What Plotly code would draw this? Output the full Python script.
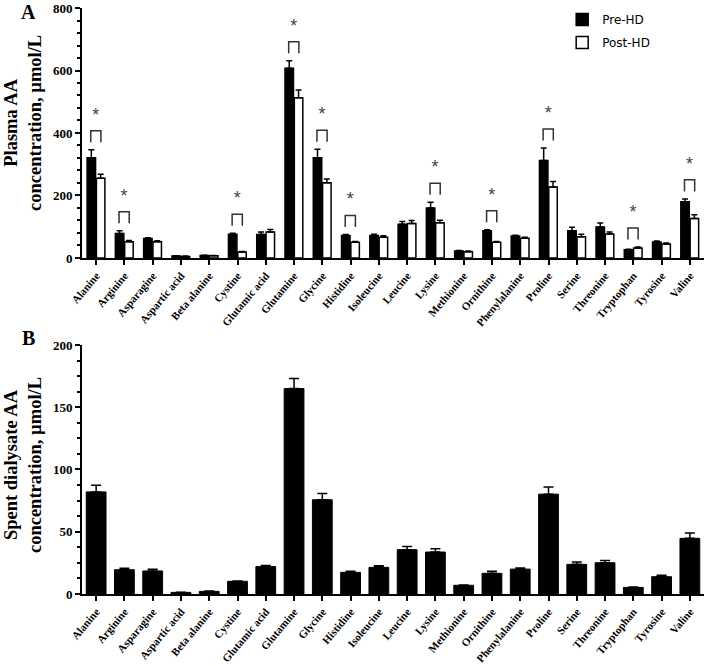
import plotly.graph_objects as go
from plotly.subplots import make_subplots

categories = ["Alanine", "Arginine", "Asparagine", "Aspartic acid", "Beta alanine",
              "Cystine", "Glutamic acid", "Glutamine", "Glycine", "Histidine",
              "Isoleucine", "Leucine", "Lysine", "Methionine", "Ornithine",
              "Phenylalanine", "Proline", "Serine", "Threonine", "Tryptophan",
              "Tyrosine", "Valine"]

pre_hd = [321, 78, 62, 6, 8, 76, 75, 607, 321, 72, 72, 108, 160, 22, 87, 70, 312, 87, 99, 26, 51, 180]
pre_hd_err = [25, 9, 3, 1, 1, 3, 8, 24, 27, 3, 4, 9, 18, 2, 3, 3, 40, 11, 13, 2, 3, 9]
post_hd = [255, 52, 52, 5, 7, 19, 83, 513, 241, 50, 66, 110, 113, 20, 50, 63, 227, 68, 77, 32, 45, 126]
post_hd_err = [13, 4, 3, 1, 1, 2, 8, 25, 12, 3, 5, 10, 8, 2, 3, 3, 18, 8, 6, 3, 3, 12]
significant = ["Alanine", "Arginine", "Cystine", "Glutamine", "Glycine", "Histidine",
               "Lysine", "Ornithine", "Proline", "Tryptophan", "Valine"]

dialysate = [82, 19.5, 18.5, 1.3, 2.1, 10.2, 22, 165, 75.7, 17.4, 21.4, 35.6, 33.7, 7.0,
             16.6, 20, 80.2, 23.8, 25.1, 5.3, 13.9, 44.7]
dialysate_err = [5.4, 1.1, 1.4, 0.2, 0.3, 0.3, 0.8, 8, 5, 0.8, 1.3, 2.6, 2.7, 0.3,
                 1.6, 0.9, 5.8, 1.9, 1.9, 0.3, 1.1, 4.3]

idx = list(range(len(categories)))
SERIF = "Liberation Serif"

fig = make_subplots(rows=2, cols=1)

fig.add_trace(go.Bar(
    x=idx, y=pre_hd, name="Pre-HD", legendgroup="pre",
    offset=-0.32, width=0.30,
    marker=dict(color="black", line=dict(color="black", width=1.5)),
    error_y=dict(type="data", symmetric=False, array=pre_hd_err,
                 arrayminus=[0] * len(pre_hd), color="black", thickness=1.5, width=3),
), row=1, col=1)
fig.add_trace(go.Bar(
    x=idx, y=post_hd, name="Post-HD", legendgroup="post",
    offset=0.01, width=0.30,
    marker=dict(color="white", line=dict(color="black", width=1.5)),
    error_y=dict(type="data", symmetric=False, array=post_hd_err,
                 arrayminus=[0] * len(post_hd), color="black", thickness=1.5, width=3),
), row=1, col=1)

# significance brackets
star_x, star_y = [], []
for name in significant:
    i = categories.index(name)
    top_err = max(pre_hd[i] + pre_hd_err[i], post_hd[i] + post_hd_err[i])
    b = top_err + 24
    t = b + 37
    fig.add_trace(go.Scatter(
        x=[i - 0.19, i - 0.19, i + 0.17, i + 0.17], y=[b, t, t, b],
        mode="lines", line=dict(color="#333333", width=1.5),
        showlegend=False, hoverinfo="skip"), row=1, col=1)
    star_x.append(i - 0.01)
    star_y.append(t + 18)
fig.add_trace(go.Scatter(
    x=star_x, y=star_y, mode="text", text=["*"] * len(star_x),
    textposition="top center",
    textfont=dict(family="Liberation Sans", size=18, color="#444444"),
    showlegend=False, hoverinfo="skip"), row=1, col=1)

fig.add_trace(go.Bar(
    x=idx, y=dialysate, width=0.70, showlegend=False,
    marker=dict(color="black", line=dict(color="black", width=1)),
    error_y=dict(type="data", symmetric=False, array=dialysate_err,
                 arrayminus=[0] * len(dialysate), color="black", thickness=1.5, width=5),
), row=2, col=1)

xaxis_common = dict(
    range=[-0.5, len(categories) - 0.5], tickmode="array", tickvals=idx, ticktext=categories,
    tickangle=-50, ticks="outside", ticklen=5, tickwidth=1.5, tickcolor="black",
    showline=True, linecolor="black", linewidth=2, showgrid=False, zeroline=False,
    automargin=False,
    tickfont=dict(family=SERIF, size=11, color="black", weight="bold"),
)
yaxis_common = dict(
    ticks="outside", ticklen=5, tickwidth=1.5, tickcolor="black",
    showline=True, linecolor="black", linewidth=2, showgrid=False, zeroline=False,
    automargin=False,
    tickfont=dict(family=SERIF, size=13, color="black", weight="bold"),
)

fig.update_layout(
    width=710, height=666, plot_bgcolor="white", paper_bgcolor="white",
    margin=dict(l=82, r=6, t=0, b=72),
    barmode="overlay",
    xaxis=dict(**xaxis_common),
    xaxis2=dict(**xaxis_common),
    yaxis=dict(**yaxis_common, domain=[0.5657, 0.9865], range=[0, 800], dtick=200,
               minor=dict(dtick=40, ticks="outside", ticklen=3, tickwidth=1.5, tickcolor="black")),
    yaxis2=dict(**yaxis_common, domain=[0.0, 0.4192], range=[0, 200], dtick=50,
                minor=dict(dtick=12.5, ticks="outside", ticklen=3, tickwidth=1.5, tickcolor="black")),
    legend=dict(x=0.772, y=0.9916, xanchor="left", yanchor="top", bgcolor="rgba(0,0,0,0)",
                font=dict(family="DejaVu Sans", size=12, color="black"),
                tracegroupgap=4),
    showlegend=True,
)

annots = [
    dict(text="A", x=-0.0868, y=0.9798),
    dict(text="B", x=-0.0868, y=0.431),
]
for a in annots:
    fig.add_annotation(text=a["text"], x=a["x"], y=a["y"], xref="paper", yref="paper",
                       xanchor="center", yanchor="middle", showarrow=False,
                       font=dict(family=SERIF, size=20, color="black", weight="bold"))

titles = [
    dict(text="Plasma AA<br>concentration, µmol/L", y=0.793),
    dict(text="Spent dialysate AA<br>concentration, µmol/L", y=0.217),
]
for tt in titles:
    fig.add_annotation(text=tt["text"], x=-0.0949, y=tt["y"], xref="paper", yref="paper",
                       xanchor="center", yanchor="middle", showarrow=False, textangle=-90,
                       font=dict(family=SERIF, size=18.5, color="black", weight="bold"))

fig.write_html("out.html", config={"displayModeBar": False},
               post_script="document.body.style.margin='0';document.body.style.overflow='hidden';")
